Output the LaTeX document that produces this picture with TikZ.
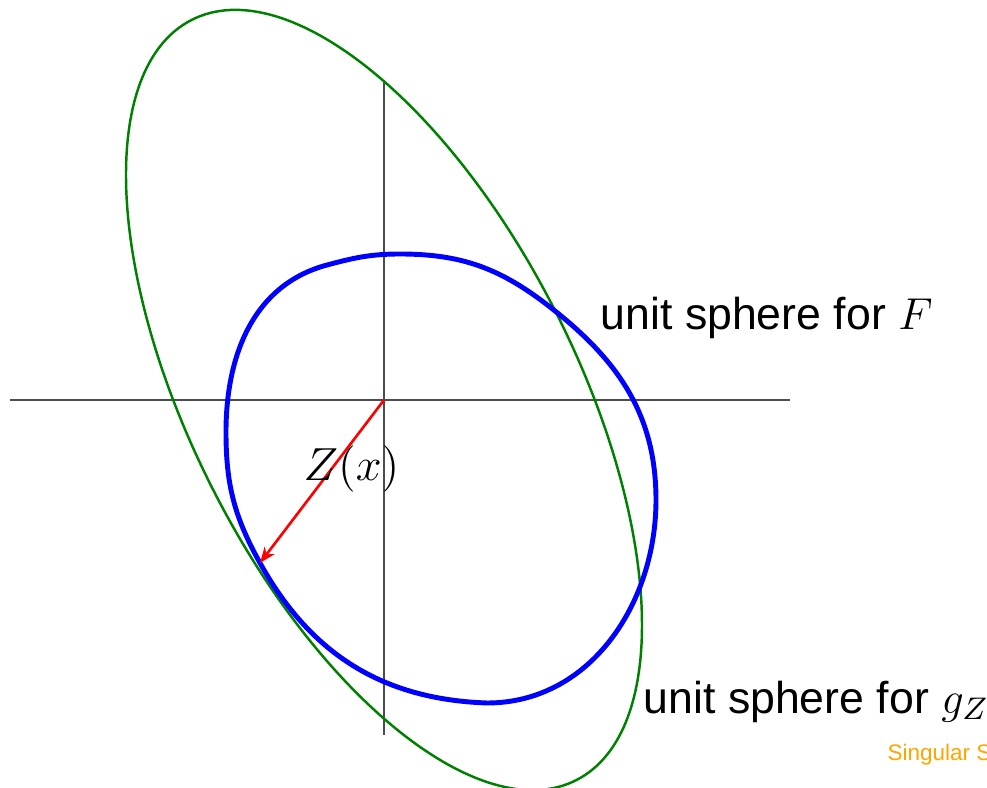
\RequirePackage{fix-cm}
\documentclass[tikz,border=0pt]{standalone}
\usepackage{fontspec}
\newfontfamily\labelfont{Liberation Sans}
\usepackage{tikz}
\usetikzlibrary{arrows.meta}
\definecolor{footorange}{RGB}{255,165,0}

\begin{document}
\begin{tikzpicture}[>=Stealth,
  axisline/.style={line width=0.35pt, black!70},
  sphereF/.style={line width=1.4pt, blue},
  sphereG/.style={line width=0.7pt, green!50!black},
  vecline/.style={line width=0.75pt, red},
  lbl/.style={inner sep=0pt, anchor=base west, font=\labelfont\fontsize{12.7}{15}\selectfont}]
  \useasboundingbox (-3.84,-3.88) rectangle (6.03,4.00);
  \coordinate (O) at (0,0);
  % axes
  \coordinate (xl) at (-3.74,0);
  \coordinate (xr) at (4.06,0);
  \coordinate (yt) at (0,3.20);
  \coordinate (yb) at (0,-3.35);
  \draw[axisline] (xl) -- (xr);
  \draw[axisline] (yb) -- (yt);
  % unit sphere for g_Z
  \draw[sphereG, rotate=-63.2] (O) ellipse [x radius=4.26, y radius=1.93];
  % unit sphere for F
  \coordinate (fR) at (2.72,-1.00);
  \coordinate (fNE) at (1.66,0.93);
  \coordinate (fT) at (0.16,1.46);
  \coordinate (fNW) at (-0.57,1.35);
  \coordinate (fL) at (-1.58,-0.32);
  \coordinate (fSW) at (-1.24,-1.63);
  \coordinate (fB) at (1.03,-3.03);
  \draw[sphereF] (fR) to[out=90, in=-38] (fNE)
    to[out=142, in=0] (fT)
    to[out=180, in=15] (fNW)
    to[out=195, in=90] (fL)
    to[out=-90, in=119] (fSW)
    to[out=-61, in=178] (fB)
    to[out=0, in=-90] cycle;
  % Z(x)
  \draw[vecline, -{Stealth[length=4.5pt, width=3.5pt, inset=1.4pt]}] (O) -- (fSW);
  \node[lbl, font=\fontsize{13.2}{15}\selectfont] (Zlbl) at (-0.81,-0.80) {$Z(x)$};
  \node[lbl] (Flbl) at (2.16,0.70) {unit sphere for $F$};
  \node[lbl] (glbl) at (2.59,-3.13) {unit sphere for $g_Z$};
  \node[lbl, font=\labelfont\fontsize{6.4}{8}\selectfont, text=footorange] (foot) at (5.03,-3.60) {Singular S};
\end{tikzpicture}
\end{document}
